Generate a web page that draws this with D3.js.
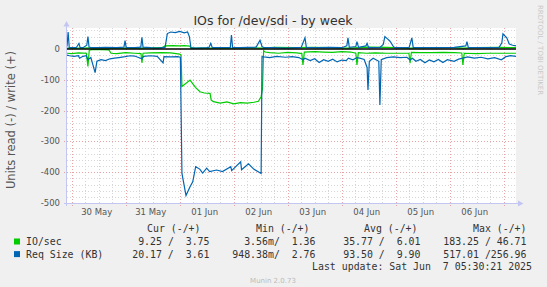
<!DOCTYPE html>
<meta charset="utf-8">
<style>

html, body {
  margin: 0;
  background: #f0f0f0;
}

svg {
  display: block;
  font-family: "DejaVu Sans", sans-serif;
}

.grid-minor line {
  stroke: #d6d6d6;
  stroke-dasharray: 1,2;
}

.grid-major line {
  stroke: #e8a4a4;
  stroke-dasharray: 1,2;
}

.tick-label {
  font-size: 8.5px;
  fill: #555;
}

.legend text {
  font-family: "DejaVu Sans Mono", monospace;
  font-size: 9.9px;
  fill: #333;
  white-space: pre;
}

</style>

<body>
  <svg class="svg" width="547" height="287"></svg>
</body>

<script src="https://d3js.org/d3.v7.min.js"></script>
<script>

/* data: [hours since 30 May 00:00, value] */
var ioWrite = [
  [-2.1, 3], [5, 3], [10, 4], [20, 3], [30, 3], [40, 4], [41.5, 10], [45, 11], [48, 10],
  [50, 11], [52.5, 9], [53, 3], [60, 3], [70, 3], [80, 4], [85, 3], [90, 5], [100, 4],
  [107, 5], [115, 4], [123, 3], [132, 6], [140, 5], [150, 3], [160, 4], [170, 4],
  [174, 3], [180, 4], [190, 5], [197.5, 4]
]
var ioRead = [
  [-2.1, -14], [0, -15], [3, -13], [6.5, -14], [7.2, -57], [7.8, -4], [9, -2], [13, -2],
  [16.5, -3], [17.5, -14], [20, -15], [24, -12], [28, -14], [30.8, -15], [31.2, -45],
  [31.7, -14], [35, -13], [40, -12], [44, -13], [48, -17], [48.6, -19], [49, -122],
  [52.6, -101], [55, -125], [57, -139], [59, -143], [61.5, -144], [62, -166], [63, -171],
  [66, -176], [69, -172], [72, -178], [75, -174], [78, -176], [81, -173], [83, -170],
  [84.2, -155], [84.8, -130], [85.3, -6], [86, -10], [88, -12], [92, -14], [96, -11],
  [100, -13], [102.3, -15], [102.8, -52], [103.4, -10], [108, -9], [112, -10], [116, -11],
  [120, -9], [124, -10], [126.3, -14], [126.8, -52], [127.4, -12], [131, -14], [135, -13],
  [140, -14], [145, -14], [149.9, -14], [150.4, -46], [151, -11], [155, -12], [160, -12],
  [165, -11], [170, -12], [173.4, -13], [173.9, -52], [174.5, -14], [180, -15],
  [185, -14], [190, -14], [195, -14], [197.5, -14]
]
var reqWrite = [
  [-2.1, 8], [-1.6, 55], [-1.1, 5], [0, 4], [2, 4], [3.2, 18], [3.7, 5], [5, 4], [6.7, 12],
  [7.2, 40], [7.7, 6], [9, 4], [12, 4], [15, 5], [20, 4], [23.2, 6], [23.7, 27], [24.2, 5],
  [28, 4], [30.7, 6], [31.2, 38], [31.7, 6], [35, 4], [38, 3], [41.5, 5], [42.5, 50],
  [44, 55], [46, 53], [48, 57], [50, 52], [51.5, 55], [52.3, 40], [53, 4], [55, 3],
  [60, 4], [61, 5], [61.8, 18], [62.5, 4], [70.5, 5], [71, 45], [71.5, 5], [75, 4],
  [82, 6], [83.7, 28], [84.6, 8], [85.5, 4], [90, 4], [95, 3], [102, 5], [103.7, 36],
  [104.3, 5], [110, 4], [115, 5], [120, 4], [122.3, 10], [122.8, 36], [123.4, 5],
  [126.3, 8], [126.8, 24], [127.5, 5], [130.8, 10], [131.3, 18], [132, 4], [137, 5],
  [138.5, 15], [139.2, 40], [140.5, 32], [141.5, 25], [142.8, 10], [143.5, 4], [150, 5],
  [151.2, 36], [151.8, 5], [160, 4], [170, 5], [175.2, 10], [175.7, 24], [176.3, 5],
  [185, 4], [190, 5], [191.2, 20], [191.7, 49], [193.4, 36], [194.5, 16], [196, 12],
  [197.5, 10]
]
var reqRead = [
  [-2.1, -20], [-1, -22], [1, -24], [3, -22], [3.5, -30], [5, -24], [6.5, -22], [7.2, -35],
  [8.5, -28], [10.4, -77], [11.2, -40], [13, -35], [15, -38], [17, -32], [19, -30],
  [21, -28], [23.7, -25], [26, -22], [28, -23], [31.2, -32], [32, -24], [35, -22],
  [38, -24], [40.6, -45], [41, -25], [44, -26], [47, -25], [48.3, -27], [49, -404],
  [50.8, -476], [52.6, -447], [53.8, -431], [55.1, -382], [56.9, -390], [58.2, -403],
  [60, -387], [61.3, -398], [64.4, -393], [67, -398], [70.7, -382], [71.1, -395],
  [75.1, -366], [75.5, -392], [78.6, -373], [80.9, -390], [84.2, -404], [84.6, -25],
  [85.5, -26], [88, -28], [91, -24], [95, -27], [98, -25], [101, -28], [102.8, -35],
  [103.7, -30], [106, -38], [108, -32], [110, -44], [112, -35], [114, -40], [116, -33],
  [118, -42], [120, -36], [122, -38], [123, -30], [125, -35], [126.8, -28], [128, -30],
  [130, -34], [131.3, -60], [131.7, -133], [132.3, -40], [134, -30], [136.5, -40],
  [137, -182], [137.6, -35], [140, -28], [143, -26], [146, -28], [149, -27], [150.4, -36],
  [151.5, -30], [153, -40], [155, -34], [157, -45], [159, -36], [161, -42], [163, -34],
  [165, -44], [167, -35], [170, -40], [172, -33], [173.9, -30], [176, -26], [179, -30],
  [182, -27], [185, -32], [188, -28], [191, -35], [193, -25], [195, -22], [197.5, -24]
]

var dayLabels = ["30 May", "31 May", "01 Jun", "02 Jun", "03 Jun", "04 Jun", "05 Jun", "06 Jun"]
var yTicks = [0, -100, -200, -300, -400, -500]

var legendHead = ["Cur (-/+)", "Min (-/+)", "Avg (-/+)", "Max (-/+)"]
var legendRows = [
  { name: "IO/sec", color: "#00cc00", values: ["9.25 /  3.75", "3.56m/  1.36", "35.77 /  6.01", "183.25 / 46.71"] },
  { name: "Req Size (KB)", color: "#0066b3", values: ["20.17 /  3.61", "948.38m/  2.76", "93.50 /  9.90", "517.01 /256.96"] }
]

/* d3 */
var svg = d3.select("svg")
var t0 = new Date(2025, 4, 30)
function hr(h) { return new Date(t0.getTime() + h * 3600e3) }

var plotL = 67, plotR = 516, plotT = 28, plotB = 203

var x = d3.scaleTime().domain([hr(-2.1), hr(197.5)]).range([plotL, plotR])
var y = d3.scaleLinear().domain([-500, 68]).range([plotB, plotT])

svg.append("rect")
    .attr("x", plotL).attr("y", plotT)
    .attr("width", plotR - plotL).attr("height", plotB - plotT)
    .attr("fill", "#fff")

// grid
var minorY = d3.range(-480, 68, 20).filter(function(v) { return v % 100 != 0 })
var majorY = [-400, -300, -200, -100]
var hours = d3.range(0, 197, 6)

svg.append("g").attr("class", "grid-minor")
  .selectAll("line").data(minorY).enter().append("line")
    .attr("x1", plotL).attr("x2", plotR)
    .attr("y1", function(d) { return Math.round(y(d)) + 0.5 })
    .attr("y2", function(d) { return Math.round(y(d)) + 0.5 })

svg.append("g").attr("class", "grid-minor")
  .selectAll("line").data(hours.filter(function(h) { return h % 24 != 0 })).enter().append("line")
    .attr("y1", plotT).attr("y2", plotB)
    .attr("x1", function(d) { return Math.round(x(hr(d))) + 0.5 })
    .attr("x2", function(d) { return Math.round(x(hr(d))) + 0.5 })

svg.append("g").attr("class", "grid-major")
  .selectAll("line").data(majorY).enter().append("line")
    .attr("x1", plotL - 3).attr("x2", plotR)
    .attr("y1", function(d) { return Math.round(y(d)) + 0.5 })
    .attr("y2", function(d) { return Math.round(y(d)) + 0.5 })

svg.append("g").attr("class", "grid-major")
  .selectAll("line").data(hours.filter(function(h) { return h % 24 == 0 })).enter().append("line")
    .attr("y1", plotT).attr("y2", plotB + 3)
    .attr("x1", function(d) { return Math.round(x(hr(d))) + 0.5 })
    .attr("x2", function(d) { return Math.round(x(hr(d))) + 0.5 })

// series
var line = d3.line()
    .x(function(d) { return x(hr(d[0])) })
    .y(function(d) { return y(d[1]) })

var series = [
  [ioRead, "#00cc00"], [ioWrite, "#00cc00"],
  [reqRead, "#0066b3"], [reqWrite, "#0066b3"]
]
svg.append("g").selectAll("path").data(series).enter().append("path")
    .attr("d", function(d) { return line(d[0]) })
    .attr("fill", "none")
    .attr("stroke", function(d) { return d[1] })
    .attr("stroke-width", 1.2)

svg.append("line")
    .attr("x1", plotL).attr("x2", plotR)
    .attr("y1", y(0)).attr("y2", y(0))
    .attr("stroke", "#000").attr("stroke-width", 1.4)

// axes
var axisColor = "#c2c6f0"
svg.append("line")
    .attr("x1", plotL - 0.5).attr("x2", plotL - 0.5).attr("y1", plotB + 3).attr("y2", 24)
    .attr("stroke", axisColor)
svg.append("path")
    .attr("d", "M" + (plotL - 3.5) + ",26.5L" + (plotL - 0.5) + ",21L" + (plotL + 2.5) + ",26.5Z")
    .attr("fill", axisColor)
svg.append("line")
    .attr("x1", plotL - 3).attr("x2", plotR + 4).attr("y1", plotB + 0.5).attr("y2", plotB + 0.5)
    .attr("stroke", axisColor)
svg.append("path")
    .attr("d", "M" + (plotR + 2) + "," + (plotB - 2.5) + "L" + (plotR + 7.5) + "," + (plotB + 0.5) + "L" + (plotR + 2) + "," + (plotB + 3.5) + "Z")
    .attr("fill", axisColor)

svg.append("g").selectAll("text").data(yTicks).enter().append("text")
    .attr("class", "tick-label")
    .attr("x", 60)
    .attr("y", function(d) { return y(d) + 3 })
    .attr("text-anchor", "end")
    .text(function(d) { return d })

svg.append("g").selectAll("text").data(dayLabels).enter().append("text")
    .attr("class", "tick-label")
    .attr("x", function(d, i) { return x(hr(12 + 24 * i)) - 2 })
    .attr("y", 215)
    .attr("text-anchor", "middle")
    .text(function(d) { return d })

// titles
svg.append("text")
    .attr("x", 273).attr("y", 25)
    .attr("text-anchor", "middle")
    .attr("font-size", "12.5px").attr("fill", "#333")
    .text("IOs for /dev/sdi - by week")

svg.append("text")
    .attr("transform", "translate(15,120) rotate(-90)")
    .attr("text-anchor", "middle")
    .attr("font-size", "11.5px").attr("fill", "#555")
    .text("Units read (-) / write (+)")

svg.append("text")
    .attr("transform", "translate(538,5) rotate(90)")
    .attr("font-size", "7px").attr("fill", "#c8c8c8")
    .text("RRDTOOL / TOBI OETIKER")

// legend
var legend = svg.append("g").attr("class", "legend")
var headX = [147, 256, 364, 473]
var colEnd = [209.5, 315.5, 420.5, 526.5]

legend.selectAll("text.head").data(legendHead).enter().append("text")
    .attr("class", "head")
    .attr("x", function(d, i) { return headX[i] })
    .attr("y", 232)
    .text(function(d) { return d })

legendRows.forEach(function(row, r) {
  var yy = 245 + r * 12.6
  legend.append("rect")
      .attr("x", 14).attr("y", yy - 6.5).attr("width", 6).attr("height", 6)
      .attr("fill", row.color)
  legend.append("text").attr("x", 26).attr("y", yy).text(row.name)
  row.values.forEach(function(v, i) {
    legend.append("text")
        .attr("x", colEnd[i]).attr("y", yy)
        .attr("text-anchor", "end")
        .text(v)
  })
})

legend.append("text")
    .attr("x", 532).attr("y", 270)
    .attr("text-anchor", "end")
    .text("Last update: Sat Jun  7 05:30:21 2025")

svg.append("text")
    .attr("x", 273).attr("y", 283)
    .attr("text-anchor", "middle")
    .attr("font-size", "7px").attr("fill", "#bbb")
    .text("Munin 2.0.73")

</script>
